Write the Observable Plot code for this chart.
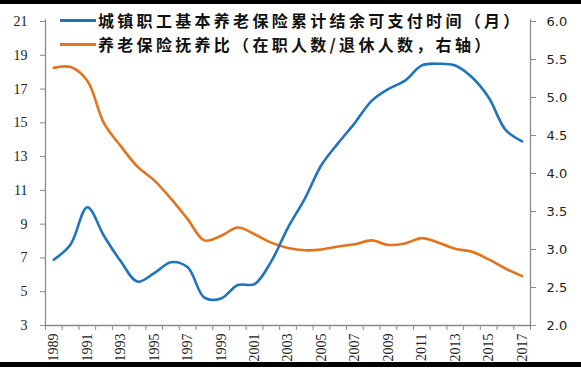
<!DOCTYPE html>
<html>
<head>
<meta charset="utf-8">
<script src="https://cdn.jsdelivr.net/npm/d3@7"></script>
<script src="https://cdn.jsdelivr.net/npm/@observablehq/plot@0.6"></script>
<style>
  html, body { margin: 0; padding: 0; background: #fff; }
  #wrap { position: relative; width: 581px; height: 371px; overflow: hidden; background: #fff; }
  #chart svg { display: block; }
  .bar { position: absolute; left: 0; width: 581px; background: #000; }
  .leg { position: absolute; left: 60px; display: flex; align-items: center; font-family: "Noto Sans CJK SC", sans-serif; font-weight: bold; font-size: 16px; letter-spacing: 3.3px; color: #111; white-space: nowrap; }
  .leg .sw { width: 36px; height: 3px; margin-right: 2px; }
</style>
</head>
<body>
<div id="wrap">
  <div id="chart"></div>
  <div class="leg" style="top:8px;"><span class="sw" style="background:#1f74bd"></span><span id="l1"></span></div>
  <div class="leg" style="top:32px;"><span class="sw" style="background:#e3731c"></span><span id="l2"></span></div>
  <div class="bar" style="top:0;height:4px;"></div>
  <div class="bar" style="top:362px;height:5px;"></div>
</div>
<script>
const years = [1989, 1990, 1991, 1992, 1993, 1994, 1995, 1996, 1997, 1998, 1999, 2000, 2001, 2002, 2003,
  2004, 2005, 2006, 2007, 2008, 2009, 2010, 2011, 2012, 2013, 2014, 2015, 2016, 2017];
const months = [6.9, 7.8, 10.0, 8.3, 6.8, 5.6, 6.1, 6.75, 6.45, 4.65, 4.6, 5.4, 5.45, 6.8, 8.8,
  10.5, 12.5, 13.8, 15.0, 16.3, 17.0, 17.5, 18.4, 18.5, 18.4, 17.7, 16.5, 14.6, 13.9];
const ratio = [5.39, 5.40, 5.22, 4.66, 4.36, 4.09, 3.91, 3.67, 3.40, 3.12, 3.18, 3.29, 3.20, 3.09, 3.02,
  2.99, 3.00, 3.04, 3.07, 3.12, 3.06, 3.08, 3.15, 3.09, 3.01, 2.97, 2.87, 2.75, 2.65];
const leftTicks = [3, 5, 7, 9, 11, 13, 15, 17, 19, 21];
const rightTicks = [2.0, 2.5, 3.0, 3.5, 4.0, 4.5, 5.0, 5.5, 6.0];
const labelYears = [1989, 1991, 1993, 1995, 1997, 1999, 2001, 2003, 2005, 2007, 2009, 2011, 2013, 2015, 2017];
const seriesNames = ["城镇职工基本养老保险累计结余可支付时间（月）", "养老保险抚养比（在职人数/退休人数，右轴）"];

document.getElementById("l1").textContent = seriesNames[0];
document.getElementById("l2").textContent = seriesNames[1];

// right axis (2.0–6.0) mapped onto left axis (3–21)
const toLeft = v => 3 + (v - 2) * 4.5;
const toRight = l => (l - 3) / 4.5 + 2;

const data = years.map((y, i) => ({year: y, months: months[i], ratio: ratio[i]}));
const bounds = years.map(y => y - 0.5).concat([years[years.length - 1] + 0.5]);

const axisColor = "#8a8a8a";
const serif = "'Liberation Serif', 'DejaVu Serif', serif";
const sans = "'DejaVu Sans', sans-serif";
const plot = Plot.plot({
  width: 581,
  height: 371,
  marginLeft: 45,
  marginRight: 51,
  marginTop: 21,
  marginBottom: 46,
  x: {type: "linear", domain: [1988.5, 2017.5], axis: null},
  y: {domain: [3, 21], axis: null},
  marks: [
    Plot.ruleX([1988.5], {y1: 3, y2: 21.1, stroke: axisColor, strokeWidth: 1.3}),
    Plot.ruleX([2017.5], {y1: 3, y2: 21.1, stroke: axisColor, strokeWidth: 1.3}),
    Plot.ruleY([3], {x1: 1988.5, x2: 2017.5, stroke: axisColor, strokeWidth: 1.3}),
    Plot.axisY({anchor: "left", ticks: leftTicks, tickSize: 5, tickPadding: 13, stroke: axisColor, fill: "#222",
      fontSize: 14, label: null}),
    Plot.axisY({anchor: "right", ticks: rightTicks.map(toLeft), tickSize: 5, tickPadding: 11, stroke: axisColor, fill: "#222",
      tickFormat: d => toRight(d).toFixed(1), fontSize: 13, label: null}),
    Plot.axisX({ticks: bounds, tickSize: 5, tickFormat: () => "", stroke: axisColor, label: null}),
    Plot.axisX({ticks: labelYears, tickSize: 0, tickPadding: 8, tickRotate: -90, tickFormat: d => String(d), fill: "#222",
      fontSize: 14, label: null}),
    Plot.line(data, {x: "year", y: d => toLeft(d.ratio), stroke: "#e3731c", strokeWidth: 2.6, curve: "catmull-rom"}),
    Plot.line(data, {x: "year", y: "months", stroke: "#1f74bd", strokeWidth: 2.6, curve: "catmull-rom"})
  ]
});
document.getElementById("chart").appendChild(plot);

// fonts: serif for left and bottom labels, sans for right labels
const tickGroups = d3.select(plot).selectAll('g[aria-label="y-axis tick label"]').nodes();
if (tickGroups[0]) d3.select(tickGroups[0]).selectAll("text").style("font-family", serif).style("font-size", "14px");
if (tickGroups[1]) d3.select(tickGroups[1]).selectAll("text").style("font-family", sans).style("font-size", "13px");
d3.select(plot).selectAll('g[aria-label="x-axis tick label"] text').style("font-family", serif).style("font-size", "14px");
</script>
</body>
</html>
